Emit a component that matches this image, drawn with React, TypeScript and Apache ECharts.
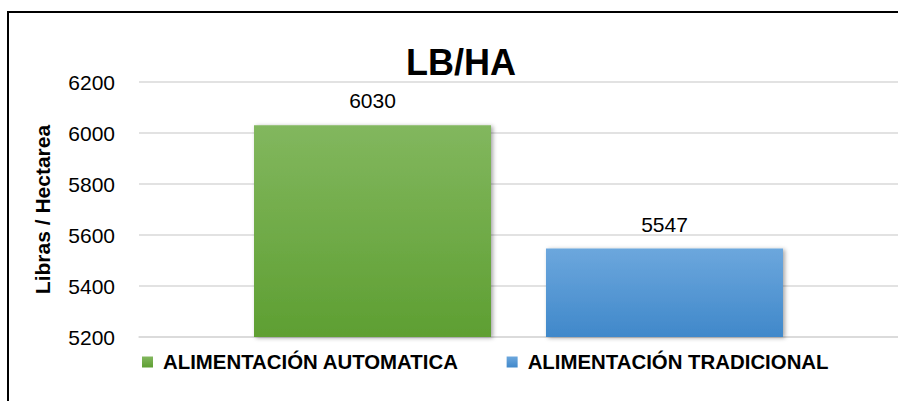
import React, { useEffect, useRef } from "react";
import * as echarts from "echarts";

const categories = [""];
const seriesNames = ["ALIMENTACIÓN AUTOMATICA", "ALIMENTACIÓN TRADICIONAL"];
const automaticaValues = [6030];
const tradicionalValues = [5547];
const yTicks = { min: 5200, max: 6200, interval: 200 };

const FONT = "Liberation Sans";

function grad(top: string, bottom: string) {
  return new echarts.graphic.LinearGradient(0, 0, 0, 1, [
    { offset: 0, color: top },
    { offset: 1, color: bottom },
  ]);
}

export default function App() {
  const ref = useRef<HTMLDivElement>(null);
  useEffect(() => {
    if (!ref.current) return;
    const chart = echarts.init(ref.current, undefined, { renderer: "svg" });
    const barShadow = {
      shadowBlur: 4,
      shadowColor: "rgba(0,0,0,0.35)",
      shadowOffsetX: 2,
      shadowOffsetY: 1,
    };
    const labelStyle = {
      show: true,
      position: "top" as const,
      distance: 14,
      fontFamily: FONT,
      fontSize: 21,
      color: "#000",
    };
    chart.setOption({
      animation: false,
      backgroundColor: "#fff",
      title: {
        text: "LB/HA",
        left: 401,
        top: 39,
        textStyle: { fontFamily: FONT, fontSize: 36, fontWeight: "bold", color: "#000" },
      },
      legend: {
        left: 142,
        top: 352,
        padding: 0,
        icon: "rect",
        itemWidth: 11,
        itemHeight: 11,
        itemGap: 48,
        textStyle: {
          fontFamily: FONT,
          fontSize: 20.4,
          fontWeight: "bold",
          color: "#000",
          padding: [0, 0, 0, 5],
        },
        data: seriesNames,
      },
      graphic: [
        {
          type: "polyline",
          shape: { points: [[8, 401], [8, 12], [898, 12]] },
          style: { fill: "none", stroke: "#000", lineWidth: 2 },
          silent: true,
        },
      ],
      grid: { left: 139, top: 82, width: 769, height: 255, containLabel: false },
      xAxis: {
        type: "category",
        data: categories,
        axisLine: { lineStyle: { color: "#d9d9d9", width: 1.5 } },
        axisTick: { show: false },
        axisLabel: { show: false },
      },
      yAxis: {
        type: "value",
        min: yTicks.min,
        max: yTicks.max,
        interval: yTicks.interval,
        name: "Libras / Hectarea",
        nameLocation: "middle",
        nameRotate: 90,
        nameGap: 86,
        nameTextStyle: { fontFamily: FONT, fontSize: 21, fontWeight: "bold", color: "#000" },
        axisLine: { show: false },
        axisTick: { show: false },
        axisLabel: {
          margin: 24,
          fontFamily: FONT,
          fontSize: 21,
          color: "#000",
          formatter: (v: number) => String(v),
        },
        splitLine: { lineStyle: { color: "#d9d9d9", width: 1.5 } },
      },
      series: [
        {
          name: seriesNames[0],
          type: "bar",
          data: automaticaValues,
          barWidth: 237,
          barGap: "23.2%",
          itemStyle: { color: grad("#82b75e", "#5e9f32"), ...barShadow },
          label: labelStyle,
        },
        {
          name: seriesNames[1],
          type: "bar",
          data: tradicionalValues,
          barWidth: 237,
          barGap: "23.2%",
          itemStyle: { color: grad("#6ca7dd", "#4088ca"), ...barShadow },
          label: labelStyle,
        },
      ],
    });
    return () => chart.dispose();
  }, []);
  return (
    <div
      ref={ref}
      style={{ position: "fixed", left: 0, top: 0, width: 898, height: 401 }}
    />
  );
}
